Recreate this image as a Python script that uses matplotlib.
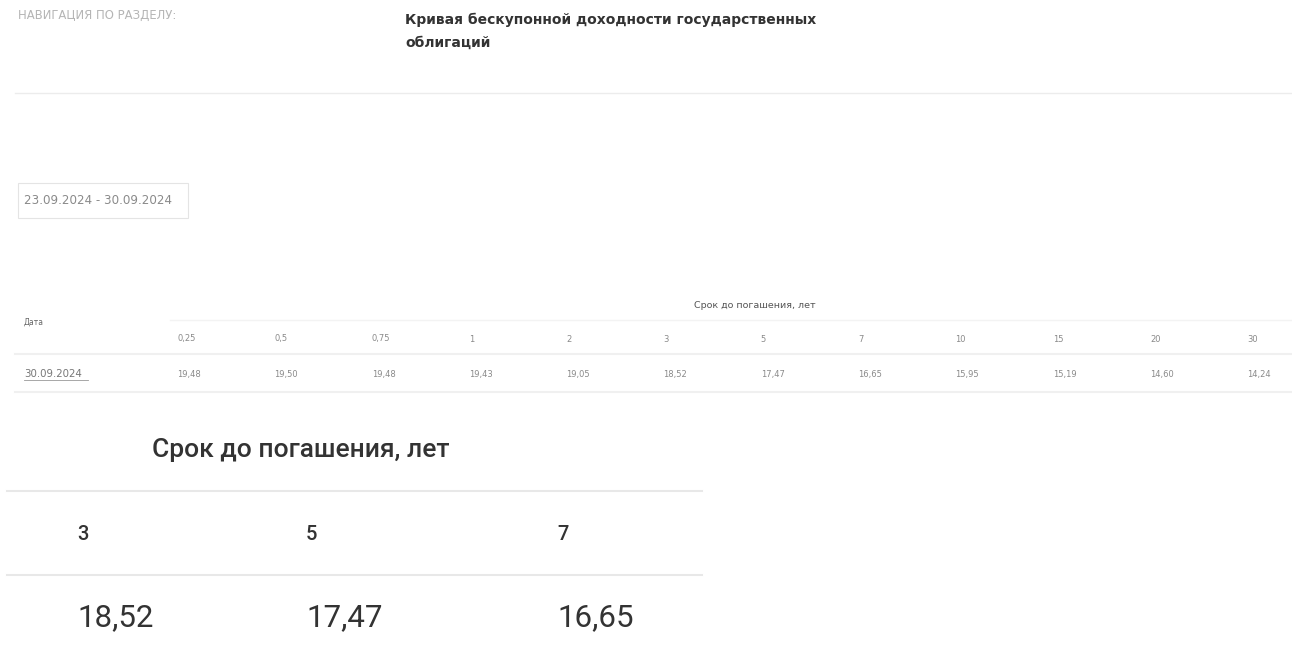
import matplotlib.pyplot as plt

# maturities (years) and zero-coupon yields (%) for 30.09.2024
maturities = ["0,25", "0,5", "0,75", "1", "2", "3", "5", "7", "10", "15", "20", "30"]
yields = [19.48, 19.50, 19.48, 19.43, 19.05, 18.52, 17.47, 16.65, 15.95, 15.19, 14.60, 14.24]
date_label = "30.09.2024"
period_label = "23.09.2024 - 30.09.2024"
highlight = ["3", "5", "7"]

title_lines = ["Кривая бескупонной доходности государственных", "облигаций"]
nav_label = "НАВИГАЦИЯ ПО РАЗДЕЛУ:"
header_label = "Срок до погашения, лет"


def fmt(v):
    return f"{v:.2f}".replace(".", ",")


W, H = 1292, 660
fig = plt.figure(figsize=(W / 100, H / 100), dpi=100)
ax = fig.add_axes([0, 0, 1, 1])
ax.set_xlim(0, W)
ax.set_ylim(H, 0)
ax.axis("off")

line_col = "#ececec"

# page header
ax.text(18, 15, nav_label, fontsize=8.4, color="#b5b5b5", va="center", family="DejaVu Sans")
for i, t in enumerate(title_lines):
    ax.text(405, 20 + i * 23, t, fontsize=10, color="#333333", va="center",
            fontweight="bold", family="DejaVu Sans")
ax.plot([15, W], [93, 93], color=line_col, lw=1)

# date range box
ax.add_patch(plt.Rectangle((18, 183), 170, 35, fill=False, ec="#e4e4e4", lw=0.8))
ax.text(24, 201, period_label, fontsize=8.6, color="#8a8a8a", va="center", family="DejaVu Sans")

# top table
col_x = [177 + i * 97.3 for i in range(len(maturities))]
ax.text(24, 322, "Дата", fontsize=5.5, color="#666666", va="center", family="DejaVu Sans")
ax.text(755, 305, header_label, fontsize=6.8, color="#555555", va="center", ha="center",
        family="DejaVu Sans")
ax.plot([170, W], [320, 320], color="#f3f3f3", lw=1)
ax.plot([15, W], [354, 354], color="#f0f0f0", lw=1.5)
ax.plot([15, W], [392, 392], color="#f0f0f0", lw=1.5)
for x, m, y in zip(col_x, maturities, yields):
    ax.text(x, 339, m, fontsize=6, color="#8a8a8a", va="center", family="DejaVu Sans")
    ax.text(x, 374, fmt(y), fontsize=6, color="#8a8a8a", va="center", family="DejaVu Sans")
ax.text(24, 374, date_label, fontsize=7.4, color="#777777", va="center", family="DejaVu Sans")
ax.plot([24, 88], [380, 380], color="#999999", lw=0.6)

# bottom detailed table
ax.text(152, 450, header_label, fontsize=19, color="#333333", va="center",
        family="Roboto", fontweight="medium")
ax.plot([7, 702], [491, 491], color="#e8e8e8", lw=1.5)
ax.plot([7, 702], [575, 575], color="#e8e8e8", lw=1.5)
bx = [77, 306, 557]
for x, m in zip(bx, highlight):
    v = yields[maturities.index(m)]
    ax.text(x, 535, m, fontsize=14.5, color="#333333", va="center", family="Roboto",
            fontweight="medium")
    ax.text(x, 618, fmt(v), fontsize=22.5, color="#333333", va="center", family="Roboto")

fig.savefig("out.png", dpi=100, facecolor="white")
